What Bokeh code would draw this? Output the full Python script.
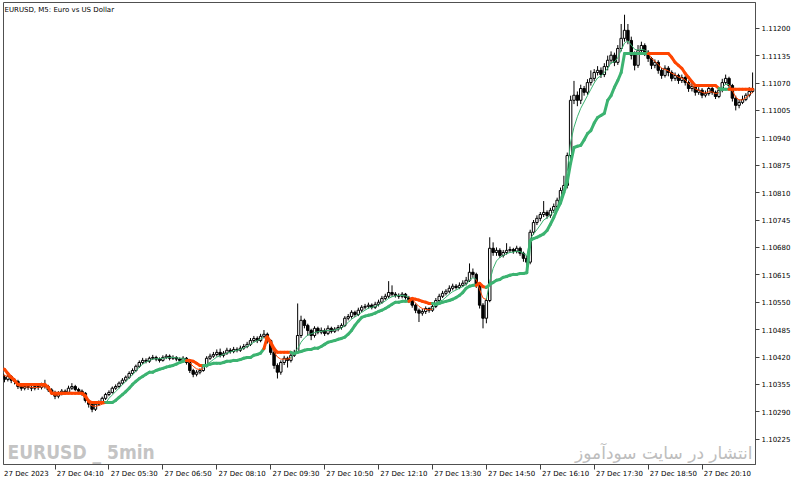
import numpy as np
from bokeh.plotting import figure
from bokeh.models import Range1d, FixedTicker, PrintfTickFormatter, Label
from bokeh.embed import file_html
from bokeh.resources import INLINE

# Prices are stored as points (0.00001) above 1.10000
BASE = 1.10000
POINT = 0.00001

OPEN_PTS = [
    380, 372, 367, 374, 365, 362, 350, 346, 350, 348,
    346, 350, 348, 353, 350, 342, 336, 327, 334, 339,
    336, 346, 350, 343, 339, 334, 317, 308, 296, 308,
    312, 322, 331, 336, 346, 350, 358, 365, 372, 381,
    388, 398, 407, 412, 410, 417, 419, 415, 412, 419,
    422, 417, 419, 415, 412, 417, 407, 388, 379, 384,
    388, 398, 417, 422, 426, 431, 424, 429, 436, 433,
    438, 436, 441, 445, 450, 459, 464, 459, 469, 474,
    459, 431, 400, 384, 407, 417, 412, 424, 431, 471,
    507, 495, 483, 471, 488, 479, 483, 476, 488, 481,
    486, 490, 495, 512, 516, 526, 521, 531, 538, 540,
    543, 538, 545, 550, 559, 564, 573, 569, 566, 564,
    569, 561, 554, 543, 531, 524, 528, 535, 531, 540,
    554, 564, 571, 576, 583, 588, 585, 590, 595, 602,
    621, 616, 590, 543, 512, 554, 678, 668, 673, 661,
    668, 673, 675, 671, 678, 666, 654, 645, 716, 739,
    749, 758, 763, 756, 768, 777, 792, 815, 827, 898,
    1029, 1041, 1029, 1057, 1048, 1071, 1081, 1095, 1100, 1090,
    1109, 1124, 1136, 1119, 1152, 1176, 1195, 1171, 1136, 1112,
    1147, 1159, 1143, 1128, 1112, 1119, 1100, 1088, 1105, 1095,
    1081, 1088, 1076, 1083, 1071, 1057, 1062, 1048, 1053, 1041,
    1045, 1057, 1048, 1038, 1053, 1071, 1081, 1064, 1034, 1017,
    1024, 1031, 1041, 1050,
]
CLOSE_PTS = [
    372, 367, 374, 365, 362, 350, 346, 350, 348, 346,
    350, 348, 353, 350, 342, 336, 327, 334, 339, 336,
    346, 350, 343, 339, 334, 317, 308, 296, 308, 312,
    322, 331, 336, 346, 350, 358, 365, 372, 381, 388,
    398, 407, 412, 410, 417, 419, 415, 412, 419, 422,
    417, 419, 415, 412, 417, 407, 388, 379, 384, 388,
    398, 417, 422, 426, 431, 424, 429, 436, 433, 438,
    436, 441, 445, 450, 459, 464, 459, 469, 474, 459,
    431, 400, 384, 407, 417, 412, 424, 431, 471, 507,
    495, 483, 471, 488, 479, 483, 476, 488, 481, 486,
    490, 495, 512, 516, 526, 521, 531, 538, 540, 543,
    538, 545, 550, 559, 564, 573, 569, 566, 564, 569,
    561, 554, 543, 531, 524, 528, 535, 531, 540, 554,
    564, 571, 576, 583, 588, 585, 590, 595, 602, 621,
    616, 590, 543, 512, 554, 678, 668, 673, 661, 668,
    673, 675, 671, 678, 666, 654, 645, 716, 739, 749,
    758, 763, 756, 768, 777, 792, 815, 827, 898, 1029,
    1041, 1029, 1057, 1048, 1071, 1081, 1095, 1100, 1090, 1109,
    1124, 1136, 1119, 1152, 1176, 1195, 1171, 1136, 1112, 1147,
    1159, 1143, 1128, 1112, 1119, 1100, 1088, 1105, 1095, 1081,
    1088, 1076, 1083, 1071, 1057, 1062, 1048, 1053, 1041, 1045,
    1057, 1048, 1038, 1053, 1071, 1081, 1064, 1034, 1017, 1024,
    1031, 1041, 1050, 1057,
]
HIGH_PTS = [
    386, 378, 380, 377, 370, 366, 356, 357, 355, 353,
    356, 355, 359, 366, 354, 346, 340, 339, 344, 343,
    352, 358, 354, 347, 343, 337, 320, 311, 312, 317,
    326, 335, 341, 350, 355, 362, 370, 376, 386, 393,
    402, 412, 418, 417, 421, 425, 423, 419, 424, 427,
    426, 424, 422, 419, 422, 420, 410, 392, 389, 393,
    403, 422, 428, 432, 438, 440, 434, 442, 441, 444,
    443, 447, 451, 456, 465, 470, 469, 475, 484, 478,
    462, 435, 405, 412, 423, 421, 429, 437, 547, 518,
    511, 499, 487, 493, 492, 490, 488, 495, 492, 491,
    496, 500, 517, 522, 531, 530, 537, 543, 546, 549,
    547, 551, 556, 565, 570, 600, 590, 574, 571, 574,
    572, 565, 558, 547, 535, 534, 540, 538, 546, 560,
    570, 577, 581, 590, 594, 593, 597, 602, 610, 642,
    630, 620, 594, 548, 560, 704, 692, 680, 678, 674,
    690, 682, 679, 684, 682, 670, 660, 722, 745, 756,
    764, 790, 768, 774, 784, 798, 822, 850, 905, 1040,
    1075, 1050, 1066, 1063, 1079, 1100, 1103, 1110, 1107, 1117,
    1135, 1145, 1142, 1160, 1210, 1232, 1210, 1180, 1145, 1160,
    1168, 1164, 1148, 1132, 1126, 1124, 1106, 1112, 1110, 1100,
    1095, 1092, 1090, 1088, 1076, 1070, 1066, 1060, 1058, 1052,
    1063, 1061, 1052, 1059, 1080, 1090, 1085, 1068, 1040, 1031,
    1040, 1046, 1060, 1095,
]
LOW_PTS = [
    368, 360, 362, 358, 355, 344, 340, 341, 342, 339,
    341, 342, 343, 345, 337, 330, 320, 322, 329, 331,
    333, 342, 339, 334, 328, 312, 300, 289, 292, 304,
    309, 318, 327, 333, 342, 346, 354, 361, 368, 377,
    384, 394, 403, 405, 406, 413, 410, 407, 409, 415,
    412, 413, 410, 406, 408, 402, 382, 372, 374, 379,
    385, 395, 413, 418, 421, 419, 419, 425, 428, 429,
    431, 432, 437, 441, 446, 455, 453, 455, 464, 452,
    425, 392, 369, 378, 401, 395, 407, 420, 428, 465,
    488, 470, 460, 466, 474, 474, 470, 472, 476, 477,
    481, 485, 491, 507, 511, 515, 517, 526, 533, 535,
    533, 534, 540, 546, 555, 560, 563, 561, 558, 559,
    556, 548, 537, 524, 503, 518, 522, 525, 527, 536,
    549, 560, 566, 571, 578, 580, 581, 586, 590, 598,
    608, 584, 535, 488, 500, 550, 660, 660, 655, 656,
    663, 667, 665, 666, 660, 646, 630, 640, 710, 733,
    742, 752, 748, 750, 762, 770, 786, 808, 820, 890,
    1020, 1015, 1020, 1040, 1042, 1064, 1074, 1088, 1082, 1084,
    1100, 1116, 1110, 1113, 1145, 1168, 1162, 1126, 1100, 1106,
    1140, 1134, 1120, 1103, 1105, 1092, 1080, 1083, 1086, 1074,
    1075, 1068, 1070, 1064, 1049, 1050, 1040, 1042, 1034, 1036,
    1040, 1042, 1032, 1034, 1048, 1066, 1058, 1026, 1005, 1010,
    1020, 1027, 1036, 1046,
]
# thick stepped trailing-stop line
STOP_PTS = [
    391, 391, 381, 372, 365, 355, 355, 355, 355, 355,
    355, 355, 355, 355, 348, 334, 334, 334, 334, 334,
    334, 334, 334, 334, 334, 328, 315, 312, 312, 312,
    312, 312, 312, 312, 317, 324, 331, 338, 346, 355,
    362, 369, 374, 379, 384, 384, 388, 391, 393, 396,
    398, 400, 403, 407, 410, 412, 412, 410, 405, 400,
    400, 400, 403, 405, 405, 405, 407, 410, 410, 412,
    412, 414, 417, 419, 419, 424, 426, 429, 440, 468,
    455, 440, 431, 431, 431, 431, 431, 428, 431, 433,
    436, 438, 438, 441, 441, 445, 450, 455, 457, 459,
    462, 464, 467, 474, 483, 495, 505, 514, 517, 519,
    521, 524, 528, 531, 535, 540, 545, 550, 550, 552,
    552, 552, 559, 557, 555, 552, 550, 547, 547, 545,
    547, 550, 552, 554, 557, 561, 566, 573, 583, 588,
    590, 590, 595, 587, 585, 592, 597, 602, 604, 609,
    611, 614, 616, 616, 618, 618, 620, 696, 701, 704,
    708, 712, 720, 735, 751, 770, 785, 810, 835, 880,
    917, 920, 922, 935, 950, 957, 975, 988, 993, 998,
    1029, 1040, 1060, 1076, 1095, 1140, 1140, 1140, 1140, 1140,
    1140, 1140, 1140, 1140, 1140, 1140, 1140, 1140, 1140, 1131,
    1119, 1112, 1105, 1093, 1083, 1073, 1064, 1064, 1064, 1064,
    1064, 1064, 1064, 1057, 1055, 1055, 1055, 1055, 1055, 1055,
    1055, 1055, 1055, 1055,
]
# thin line that follows price
SIGNAL_PTS = [
    380, 376, 374, 368, 360, 352, 350, 349, 349, 348,
    348, 348, 349, 350, 343, 332, 329, 330, 331, 332,
    333, 333, 333, 333, 331, 322, 310, 304, 303, 305,
    308, 310, 322, 330, 338, 346, 354, 362, 370, 378,
    387, 396, 403, 408, 412, 415, 416, 416, 417, 418,
    419, 419, 418, 417, 417, 414, 406, 398, 392, 390,
    393, 403, 408, 414, 420, 423, 426, 429, 432, 434,
    436, 438, 441, 445, 450, 455, 459, 463, 467, 462,
    448, 432, 420, 415, 415, 415, 418, 430, 440, 455,
    465, 472, 475, 478, 480, 481, 482, 483, 483, 484,
    486, 489, 495, 502, 510, 515, 520, 526, 531, 536,
    538, 540, 543, 548, 553, 559, 563, 565, 566, 566,
    565, 562, 556, 548, 540, 535, 533, 532, 534, 548,
    552, 555, 562, 569, 575, 579, 583, 587, 592, 602,
    608, 604, 580, 560, 556, 600, 630, 648, 656, 661,
    665, 668, 669, 671, 670, 666, 660, 700, 712, 722,
    733, 745, 750, 757, 765, 776, 798, 818, 860, 930,
    965, 990, 1010, 1025, 1040, 1055, 1070, 1082, 1087, 1095,
    1105, 1118, 1120, 1130, 1148, 1165, 1170, 1160, 1150, 1148,
    1150, 1148, 1142, 1128, 1122, 1114, 1105, 1102, 1099, 1093,
    1090, 1084, 1082, 1077, 1068, 1064, 1056, 1053, 1048, 1046,
    1049, 1049, 1045, 1047, 1060, 1067, 1066, 1052, 1036, 1030,
    1030, 1035, 1042, 1048,
]

TIME_TICK_BARS = [0, 16, 32, 48, 64, 80, 96, 112, 128, 144, 160, 176, 192, 208]
TIME_LABELS = ["27 Dec 2023", "27 Dec 04:10", "27 Dec 05:30", "27 Dec 06:50",
               "27 Dec 08:10", "27 Dec 09:30", "27 Dec 10:50", "27 Dec 12:10",
               "27 Dec 13:30", "27 Dec 14:50", "27 Dec 16:10", "27 Dec 17:30",
               "27 Dec 18:50", "27 Dec 20:10"]
PRICE_TICKS = [1.10225, 1.10290, 1.10355, 1.10420, 1.10485, 1.10550, 1.10615,
               1.10680, 1.10745, 1.10810, 1.10875, 1.10940, 1.11005, 1.11070,
               1.11135, 1.11200]

TITLE = "EURUSD, M5: Euro vs US Dollar"
WATERMARK_LEFT = "EURUSD _ 5min"
WATERMARK_RIGHT = "انتشار در سایت سودآموز"

GREEN = "#3CB371"
ORANGE = "#FF4500"
AXIS_FONT = "DejaVu Sans"

n = len(CLOSE_PTS)
for arr in (OPEN_PTS, HIGH_PTS, LOW_PTS, STOP_PTS, SIGNAL_PTS):
    assert len(arr) == n, len(arr)

idx = np.arange(n)
o = BASE + np.array(OPEN_PTS) * POINT
c = BASE + np.array(CLOSE_PTS) * POINT
h = BASE + np.array(HIGH_PTS) * POINT
l = BASE + np.array(LOW_PTS) * POINT
stop = BASE + np.array(STOP_PTS) * POINT
sig = BASE + np.array(SIGNAL_PTS) * POINT

p = figure(width=800, height=483,
           x_range=Range1d(0.71, 223.86), y_range=Range1d(1.10165, 1.11261),
           output_backend="svg", toolbar_location=None,
           x_axis_location="below", y_axis_location="right",
           min_border_left=3, min_border_top=2, min_border_right=45,
           min_border_bottom=19,
           background_fill_color="white", border_fill_color="white",
           outline_line_color="#505050")
p.grid.visible = False

# time axis: tick marks at the bar, labels to the right of the mark
xa = p.xaxis[0]
label_pos = [b + 7.5 for b in TIME_TICK_BARS]
xa.ticker = FixedTicker(ticks=label_pos, minor_ticks=TIME_TICK_BARS)
xa.major_label_overrides = {pos: lab for pos, lab in zip(label_pos, TIME_LABELS)}
xa.major_tick_out = 0
xa.major_tick_in = 0
xa.minor_tick_out = 5
xa.minor_tick_in = 0
xa.minor_tick_line_color = "#404040"
xa.axis_line_color = "#505050"
xa.major_label_standoff = 0
xa.major_label_text_font = AXIS_FONT
xa.major_label_text_font_size = "7px"
xa.major_label_text_color = "black"

ya = p.yaxis[0]
ya.ticker = FixedTicker(ticks=PRICE_TICKS)
ya.formatter = PrintfTickFormatter(format="%.5f")
ya.major_tick_out = 4
ya.major_tick_in = 0
ya.minor_tick_out = 0
ya.minor_tick_in = 0
ya.major_tick_line_color = "#404040"
ya.axis_line_color = "#505050"
ya.major_label_standoff = 2
ya.major_label_text_font = AXIS_FONT
ya.major_label_text_font_size = "7px"
ya.major_label_text_color = "black"

# candles
p.segment(x0=idx, y0=l, x1=idx, y1=h, line_color="black", line_width=1)
body_fill = ["white" if cc >= oo else "black" for oo, cc in zip(o, c)]
p.vbar(x=idx, width=0.72, top=np.maximum(o, c), bottom=np.minimum(o, c),
       fill_color=body_fill, line_color="black", line_width=1)

# trend colouring: green while the signal line is above the stop
colors = np.where(sig > stop, GREEN, ORANGE)
p.segment(x0=idx[:-1], y0=stop[:-1], x1=idx[1:], y1=stop[1:],
          line_color=list(colors[1:]), line_width=3, line_cap="round")
p.segment(x0=idx[:-1], y0=sig[:-1], x1=idx[1:], y1=sig[1:],
          line_color=list(colors[1:]), line_width=1)

p.add_layout(Label(x=1, y=459, x_units="screen", y_units="screen", text=TITLE,
                   text_font=AXIS_FONT, text_font_size="7px",
                   text_baseline="top", text_color="black"))
p.add_layout(Label(x=4, y=2, x_units="screen", y_units="screen",
                   text=WATERMARK_LEFT,
                   text_font="DejaVu Sans Condensed, Roboto, sans-serif",
                   text_font_style="bold", text_font_size="19px",
                   text_color="#C4C4C4", text_baseline="bottom"))
p.add_layout(Label(x=749, y=2, x_units="screen", y_units="screen",
                   text=WATERMARK_RIGHT, text_font="DejaVu Sans",
                   text_font_size="17px", text_align="right",
                   text_color="#BDBDBD", text_baseline="bottom"))

open("out.html", "w").write(file_html(p, INLINE))
